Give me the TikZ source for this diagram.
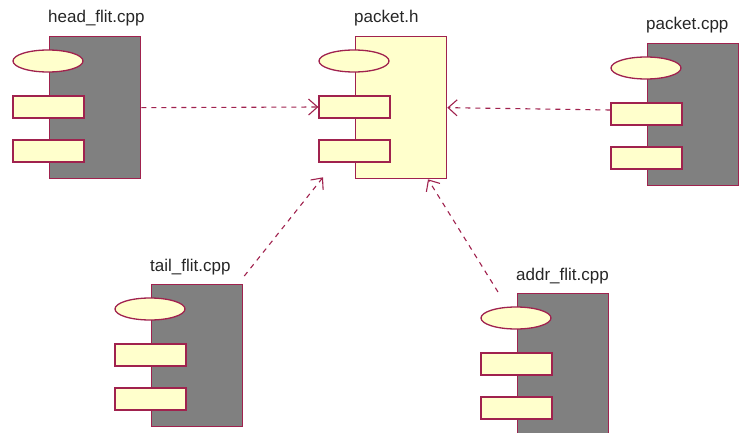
\documentclass[tikz,border=0pt]{standalone}
\usepackage{fontspec}
\setmainfont{Liberation Sans}
\usetikzlibrary{arrows.meta,calc}
\definecolor{edge}{HTML}{A0224E}
\definecolor{cream}{HTML}{FFFFCC}
\definecolor{darkbody}{HTML}{808080}
\tikzset{
  x=1pt,y=-1pt,
  compline/.style={draw=edge,line width=1.3pt},
  body/.style={compline,rectangle,minimum width=91pt,minimum height=142pt,inner sep=0pt,anchor=north west},
  lollipop/.style={compline,ellipse,fill=cream,minimum width=70pt,minimum height=22pt,inner sep=0pt},
  port/.style={compline,rectangle,fill=cream,minimum width=71pt,minimum height=22pt,inner sep=0pt},
  lbl/.style={anchor=base west,inner sep=0pt,font=\fontsize{17}{20}\selectfont,text=black!85},
  dep/.style={draw=edge,line width=1.1pt,dash pattern=on 5pt off 5pt,-{Straight Barb[length=9pt,width=16pt,line width=1.1pt]}},
  pics/comp/.style n args={2}{code={
    \node[body,fill=#1] (-body) at (0,0) {};
    \node[lollipop] (-ell) at (-1,25) {};
    \node[port] (-r1) at (-0.5,71) {};
    \node[port] (-r2) at (-0.5,115) {};
    \node[lbl] (-lbl) at (-1,-13) {#2};
  }}
}
\usetikzlibrary{shapes.geometric}
\begin{document}
\begin{tikzpicture}
\useasboundingbox (0,0) rectangle (739,433);
\pic (hf) at (49,36) {comp={darkbody}{head\_flit.cpp}};
\pic (ph) at (355,36) {comp={cream}{packet.h}};
\pic (pc) at (647,43) {comp={darkbody}{packet.cpp}};
\pic (tf) at (151,284) {comp={darkbody}{tail\_flit.cpp}};
\pic (af) at (517,293) {comp={darkbody}{addr\_flit.cpp}};
\coordinate (pcstart) at ($(pc-r1.west)+(0,-4)$);
\coordinate (tfstart) at ($(tf-body.north east)+(1,-8)$);
\coordinate (tfend) at ($(ph-body.south west)+(-32,-2)$);
\coordinate (afstart) at ($(af-body.north west)+(-19,-1)$);
\coordinate (afend) at ($(ph-body.south west)+(73,0)$);
\draw[dep] (hf-body.east) -- (ph-r1.west);
\draw[dep] (pcstart) -- (ph-body.east);
\draw[dep] (tfstart) -- (tfend);
\draw[dep] (afstart) -- (afend);
\end{tikzpicture}
\end{document}
